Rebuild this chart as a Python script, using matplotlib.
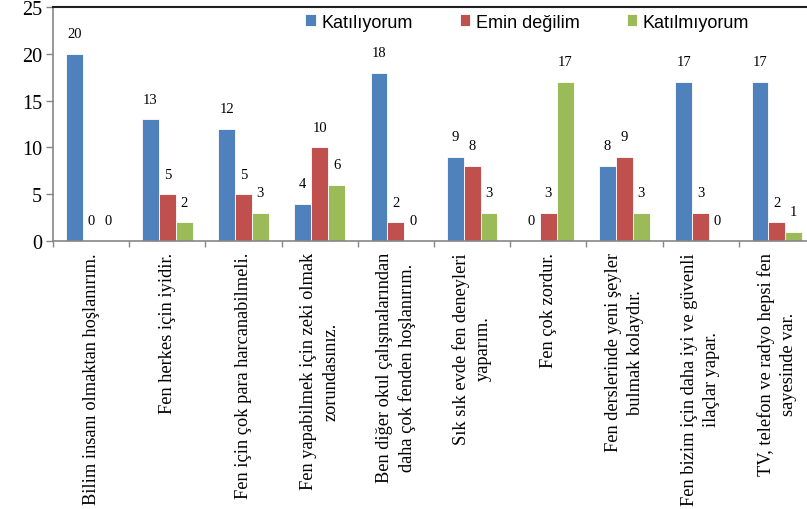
import matplotlib.pyplot as plt
import numpy as np

categories = [
    "Bilim insanı olmaktan hoşlanırım.",
    "Fen herkes için iyidir.",
    "Fen için çok para harcanabilmeli.",
    "Fen yapabilmek için zeki olmak\nzorundasınız.",
    "Ben diğer okul çalışmalarından\ndaha çok fenden hoşlanırım.",
    "Sık sık evde fen deneyleri\nyaparım.",
    "Fen çok zordur.",
    "Fen derslerinde yeni şeyler\nbulmak kolaydır.",
    "Fen bizim için daha iyi ve güvenli\nilaçlar yapar.",
    "TV, telefon ve radyo hepsi fen\nsayesinde var.",
]
katiliyorum = [20, 13, 12, 4, 18, 9, 0, 8, 17, 17]
emin_degilim = [0, 5, 5, 10, 2, 8, 3, 9, 3, 2]
katilmiyorum = [0, 2, 3, 6, 0, 3, 17, 3, 0, 1]

series = [("Katılıyorum", katiliyorum, "#4F81BD"),
          ("Emin değilim", emin_degilim, "#C0504D"),
          ("Katılmıyorum", katilmiyorum, "#9BBB59")]

fig = plt.figure(figsize=(8.07, 5.10), dpi=100)
ax = fig.add_axes([53 / 807, 1 - 242 / 510, (815 - 53) / 807, (242 - 8) / 510])

x = np.arange(len(categories))
w = 0.222
serif = "Liberation Serif"

for k, (name, vals, col) in enumerate(series):
    pos = x + (k - 1) * w
    ax.bar(pos, vals, w, color=col, edgecolor="white", linewidth=0.6, label=name)
    for p, v in zip(pos, vals):
        ax.annotate(str(v), (p, v), xytext=(0, 14.5), textcoords="offset points",
                    ha="center", va="center", fontsize=10.5, family=serif)

ax.set_xlim(-0.5, len(categories) - 0.5)
ax.set_ylim(0, 25)
ax.set_yticks(range(0, 26, 5))
ax.set_yticklabels([str(t) for t in range(0, 26, 5)], fontsize=14.5, family=serif)

ax.set_xticks(x)
ax.set_xticklabels(categories, rotation=90, va="top", ha="center",
                   multialignment="center", fontsize=13.2, family=serif)
for t in ax.get_xticklabels():
    t.set_linespacing(1.4)
ax.set_xticks(np.arange(-0.5, len(categories), 1), minor=True)
ax.tick_params(axis="x", which="major", length=0, pad=8)
ax.tick_params(axis="x", which="minor", length=4, color="#868686", width=1)
ax.tick_params(axis="y", length=5, color="#868686", width=1, pad=3)

for s in ["left", "bottom"]:
    ax.spines[s].set_color("#868686")
    ax.spines[s].set_linewidth(1.2)
ax.spines["top"].set_color("#202020")
ax.spines["top"].set_linewidth(1.5)
ax.spines["right"].set_visible(False)

ax.legend(loc="center left", bbox_to_anchor=(296 / 807, 1 - 23 / 510),
          bbox_transform=fig.transFigure, ncol=3, frameon=False,
          prop={"family": "Liberation Sans", "size": 13},
          handlelength=0.6, handleheight=0.6, handletextpad=0.3,
          columnspacing=2.6, borderpad=0)

fig.savefig("out.png", dpi=100)
